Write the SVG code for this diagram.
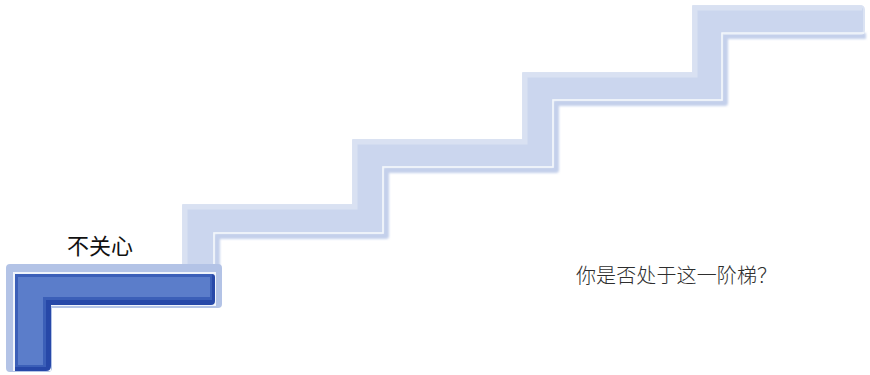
<svg xmlns="http://www.w3.org/2000/svg" width="870" height="375" viewBox="0 0 870 375">
  <style>
    .lbl { font-family: "Noto Sans CJK SC", "Noto Sans", sans-serif; fill: #111; }
    .q { font-family: "Noto Sans CJK SC", "Noto Sans", sans-serif; fill: #2e2e2e; font-weight: 300; }
  </style>
  <defs>
    <filter id="blur1" x="-5%" y="-5%" width="110%" height="110%">
      <feGaussianBlur stdDeviation="1.2"/>
    </filter>
  </defs>
  <rect width="870" height="375" fill="#ffffff"/>

  <g id="stairs-light">
    <!-- soft shadow along inner edges -->
    <path d="M866,36 H725 V103 H556 V170 H386 V236 H217 V268" fill="none" stroke="#c4d0eb" stroke-width="6" stroke-linejoin="round" filter="url(#blur1)"/>
    <!-- band -->
    <path d="M183,266 V205 H353 V140 H523 V73 H693 V6 H860 Q864,6 864,10 V30 Q864,34 860,34 H722 V100 H553 V167 H383 V233 H214 V266 Z" fill="#cbd6ee" stroke="#dbe3f3" stroke-width="2" stroke-linejoin="round"/>
    <!-- lighter outer rim -->
    <path d="M185,266 V207 H355 V142 H525 V75 H695 V8 H862" fill="none" stroke="#d9e1f2" stroke-width="5" stroke-linejoin="miter"/>
    <!-- inner white highlight -->
    <path d="M864,33 H722 V100 H553 V167 H383 V233 H214 V266" fill="none" stroke="#f4f7fc" stroke-width="1.5" stroke-linejoin="miter"/>
  </g>

  <g id="step-dark">
    <path d="M10,264 H218 Q222,264 222,268 V304 Q222,308 218,308 H52 V368 Q52,372 48,372 H10 Q6,372 6,368 V268 Q6,264 10,264 Z" fill="#b3c3e6"/>
    <path d="M13,272 H216 V306 H51 V371 H13 Z" fill="#f0f4fb"/>
    <path d="M15,274 H212 Q215,274 215,277 V301 Q215,305 211,305 H51 V366 Q51,371 46,371 H15 Z" fill="#2748a8"/>
    <path d="M15,274 H212 V300 H46 V367 H15 Z" fill="#3b5fb8"/>
    <path d="M18,277 H210 V297 H43 V365 H18 Z" fill="#5b7dca"/>
  </g>

  <g id="label-1">
    <text class="lbl" x="67" y="254" font-size="22">不关心</text>
  </g>
  <g id="question">
    <text class="q" x="576" y="283" font-size="20" textLength="201" lengthAdjust="spacing">你是否处于这一阶梯？</text>
  </g>
</svg>
